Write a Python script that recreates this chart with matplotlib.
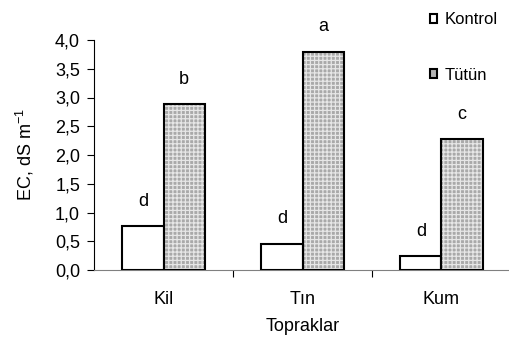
import numpy as np
import matplotlib.pyplot as plt
from matplotlib.patches import Patch

plt.rcParams['font.family'] = ['Liberation Sans', 'DejaVu Sans']
plt.rcParams['mathtext.fontset'] = 'custom'
plt.rcParams['mathtext.rm'] = 'Liberation Sans'
plt.rcParams['mathtext.it'] = 'Liberation Sans'
plt.rcParams['hatch.linewidth'] = 0.9

soils = ['Kil', 'Tın', 'Kum']
kontrol = [0.77, 0.46, 0.25]
tutun = [2.89, 3.80, 2.28]
kontrol_letters = ['d', 'd', 'd']
tutun_letters = ['b', 'a', 'c']

fig = plt.figure(figsize=(5.1, 3.43), dpi=100)
ax = fig.add_axes([94/510, 1 - 270/343, 417/510, 230/343])

x = np.arange(len(soils))
w = 0.295
fs = 13

ax.bar(x - w/2, kontrol, w, color='white', edgecolor='black', lw=1.5, zorder=3)
ax.bar(x + w/2, tutun, w, color='#a9a9a9', edgecolor='#e6e6e6', hatch='++++', lw=0, zorder=2)
ax.bar(x + w/2, tutun, w, fill=False, edgecolor='black', lw=1.5, zorder=3)

h1 = Patch(facecolor='white', edgecolor='black', lw=1.5, label='Kontrol')
h2 = Patch(facecolor='#b4b4b4', edgecolor='black', lw=1.5, label='Tütün')

for xi, v, t in zip(x - w/2, kontrol, kontrol_letters):
    ax.text(xi, v + 0.35, t, ha='center', va='baseline', fontsize=fs)
for xi, v, t in zip(x + w/2, tutun, tutun_letters):
    ax.text(xi, v + 0.35, t, ha='center', va='baseline', fontsize=fs)

ax.set_xlim(-0.5, 2.5)
ax.set_ylim(0, 4.0)
yt = np.arange(0, 4.01, 0.5)
ax.set_yticks(yt)
ax.set_yticklabels([f'{v:.1f}'.replace('.', ',') for v in yt], fontsize=fs)
ax.set_xticks([0.5, 1.5])
ax.set_xticklabels([])
ax.tick_params(axis='x', direction='out', length=5, color='black')
ax.tick_params(axis='y', direction='out', length=5, pad=5)
for xi, s in zip(x, soils):
    ax.text(xi, -0.37, s, ha='center', va='top', fontsize=fs)
ax.text(1, -0.84, 'Topraklar', ha='center', va='top', fontsize=fs)
ax.set_ylabel('EC, dS m$^{\\mathregular{-1}}$', fontsize=fs, labelpad=14)

ax.spines['top'].set_visible(False)
ax.spines['right'].set_visible(False)
ax.spines['bottom'].set_color('#808080')
ax.spines['left'].set_color('black')

fig.legend(handles=[h1, h2], loc='upper left', bbox_to_anchor=(430/510, 1 - 12/343),
           frameon=False, fontsize=12, handlelength=0.45, handleheight=0.45,
           labelspacing=2.45, handletextpad=0.45, borderpad=0, borderaxespad=0)

fig.savefig('out.png', dpi=100)
